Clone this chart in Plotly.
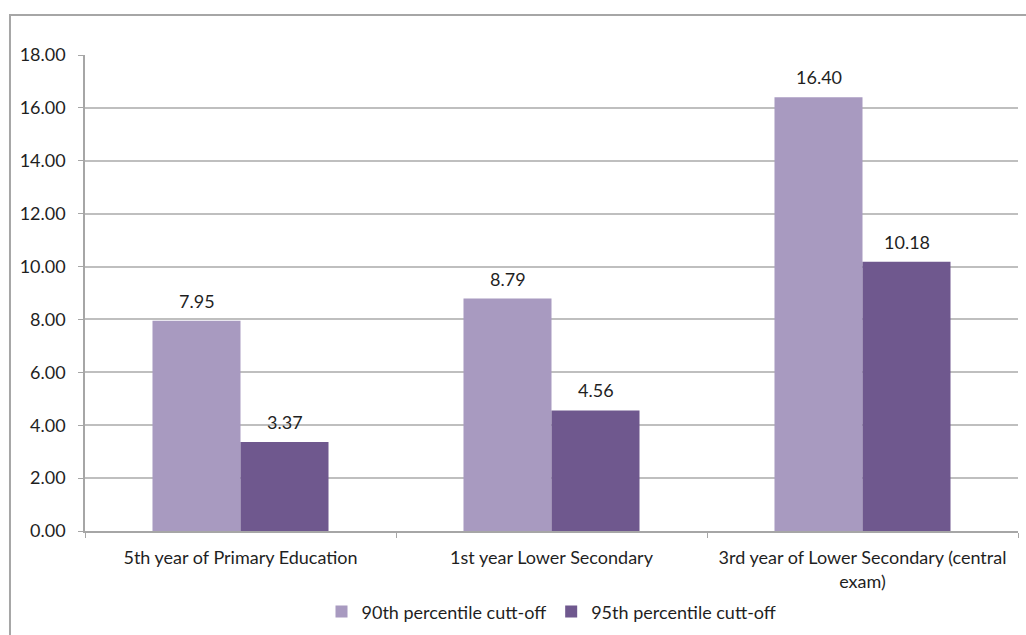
import plotly.graph_objects as go

categories = ["5th year of Primary Education", "1st year Lower Secondary",
              "3rd year of Lower Secondary (central<br>exam)"]
series_names = ["90th percentile cutt-off", "95th percentile cutt-off"]
p90 = [7.95, 8.79, 16.40]
p95 = [3.37, 4.56, 10.18]
y_ticks = [0, 2, 4, 6, 8, 10, 12, 14, 16, 18]

colors = ["#A89AC0", "#6F588E"]
font_family = "Lato, 'Open Sans', sans-serif"
text_color = "#1F1F1F"
fs = 18

fig = go.Figure()
for name, vals, col in zip(series_names, [p90, p95], colors):
    fig.add_trace(go.Bar(x=categories, y=vals, name=name, marker_color=col,
                         marker_line_width=0))

annotations = []
for k, vals in enumerate([p90, p95]):
    shift = -44 if k == 0 else 44
    for c, v in zip(categories, vals):
        annotations.append(dict(x=c, y=v, text=f"{v:.2f}", showarrow=False,
                                xshift=shift, yanchor="bottom", yshift=7,
                                font=dict(family=font_family, size=fs, color=text_color)))

fig.update_layout(
    width=1026, height=635,
    margin=dict(l=85, r=8, t=55, b=104, autoexpand=False),
    paper_bgcolor="white", plot_bgcolor="white",
    barmode="group", bargap=0.434, bargroupgap=0,
    font=dict(family=font_family, size=fs, color=text_color),
    showlegend=True,
    legend=dict(orientation="h", x=0.5, xanchor="center", y=-0.17, yanchor="middle",
                font=dict(size=fs), traceorder="normal"),
    annotations=annotations,
    shapes=[dict(type="rect", xref="paper", yref="paper",
                 x0=-0.0804, x1=1.3, y0=-0.6, y1=1.084,
                 line=dict(color="#A6A6A6", width=2), fillcolor="rgba(0,0,0,0)",
                 layer="below")],
)
fig.update_yaxes(range=[0, 18], tickvals=y_ticks, tickformat=".2f",
                 showgrid=True, gridcolor="#BFBFBF", gridwidth=1.5,
                 showline=True, linecolor="#A6A6A6", linewidth=1.5,
                 ticks="outside", ticklen=5, tickcolor="#A6A6A6",
                 ticklabelstandoff=9, zeroline=False, automargin=False,
                 tickfont=dict(size=fs, color=text_color))
fig.update_xaxes(showline=True, linecolor="#A6A6A6", linewidth=1.5,
                 ticks="outside", ticklen=5, tickcolor="#A6A6A6",
                 tickson="boundaries", ticklabelstandoff=10, automargin=False,
                 tickfont=dict(size=fs, color=text_color))

fig.write_html("out.html")
